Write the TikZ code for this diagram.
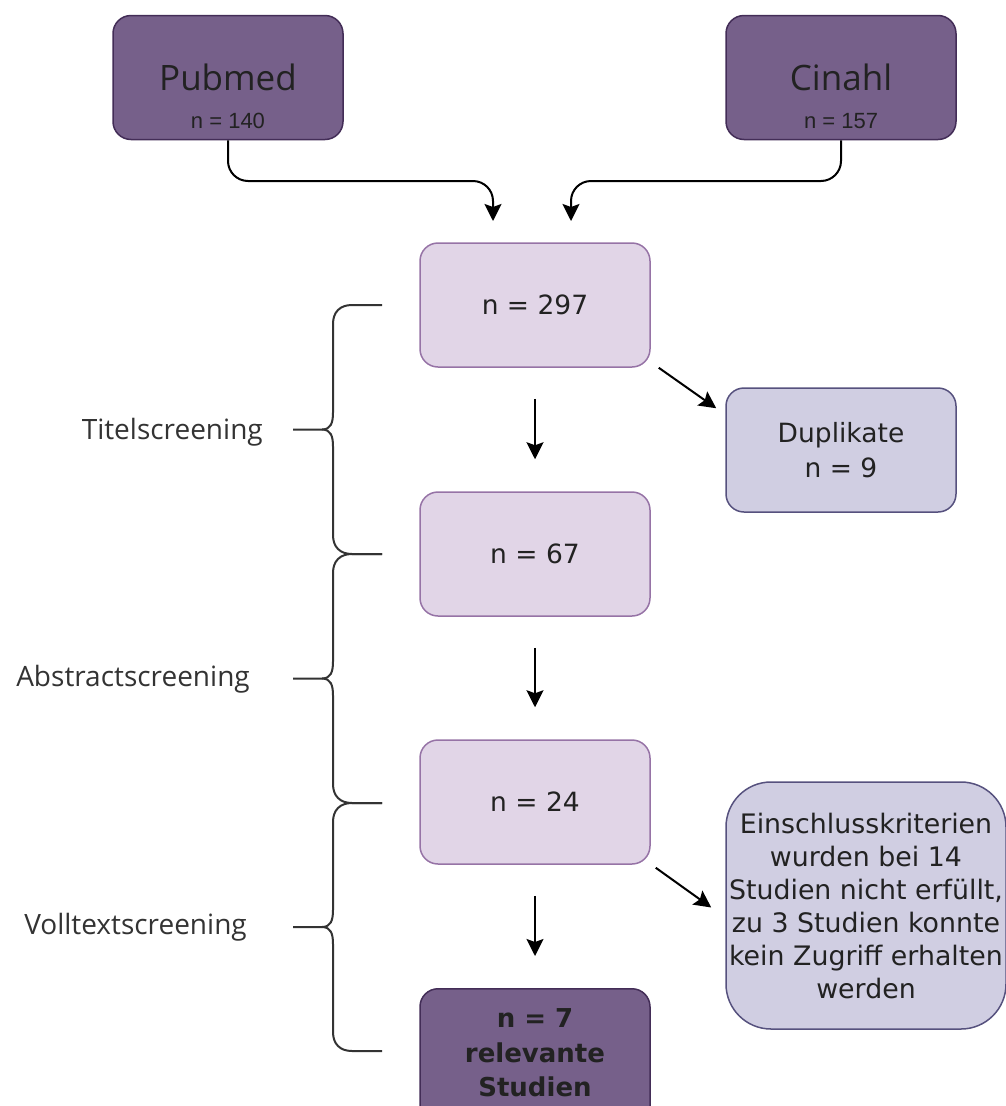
\documentclass[tikz,border=0pt]{standalone}
\usepackage{fontspec}
\setmainfont{DejaVu Sans}
\newfontfamily\labelfont{Open Sans}
\newfontfamily\arialfont{Liberation Sans}
\usetikzlibrary{arrows.meta,calc}
\definecolor{darkfill}{HTML}{76608A}
\definecolor{darkline}{HTML}{432D57}
\definecolor{lightfill}{HTML}{E1D5E7}
\definecolor{lightline}{HTML}{9673A6}
\definecolor{lavfill}{HTML}{D0CEE2}
\definecolor{lavline}{HTML}{56517E}
\definecolor{txt}{HTML}{222222}
\definecolor{bracecol}{HTML}{333333}
\tikzset{
  boxbase/.style={rounded corners=18pt, minimum width=230pt, minimum height=124pt, inner sep=0pt, line width=1.5pt, align=center, text=txt, font=\fontsize{26.5}{35}\selectfont},
  darkbox/.style={boxbase, fill=darkfill, draw=darkline},
  lightbox/.style={boxbase, fill=lightfill, draw=lightline},
  lavbox/.style={boxbase, fill=lavfill, draw=lavline},
  arr/.style={line width=2pt, -{Stealth[length=17pt 0,width=17pt 0,inset=3pt 0]}},
  bracepath/.style={line width=2pt, draw=bracecol},
  sidelabel/.style={anchor=east, inner sep=0pt, text=bracecol, font=\labelfont\fontsize{28}{34}\selectfont},
}
\begin{document}
\begin{tikzpicture}[x=1pt,y=-1pt]
\useasboundingbox (0,0) rectangle (1006,1106);

% top source boxes
\node[darkbox] (pub) at (228,77.5) {};
\node[anchor=base, inner sep=0pt, text=txt, font=\labelfont\fontsize{35}{40}\selectfont] (pubt) at (228,90) {Pubmed};
\node[anchor=base, inner sep=0pt, text=txt, font=\arialfont\fontsize{22}{26}\selectfont] (pubn) at (228,128) {n = 140};

\node[darkbox] (cin) at (841,77.5) {};
\node[anchor=base, inner sep=0pt, text=txt, font=\labelfont\fontsize{35}{40}\selectfont] (cint) at (841,90) {Cinahl};
\node[anchor=base, inner sep=0pt, text=txt, font=\arialfont\fontsize{22}{26}\selectfont] (cinn) at (841,128) {n = 157};

% flow boxes
\node[lightbox] (b297) at (535,305) {n = 297};
\node[lightbox] (b67) at (535,554) {n = 67};
\node[lightbox] (b24) at (535,802) {n = 24};
\node[darkbox, anchor=north, minimum height=140pt] (b7) at (535,988) {};
\node[inner sep=0pt, align=center, text=txt, font=\bfseries\fontsize{26}{34.5}\selectfont] (b7t) at (535,1053) {n = 7\\relevante\\Studien};

\node[lavbox] (dup) at (841,450) {Duplikate\\n = 9};
\node[lavbox, rounded corners=45pt, minimum width=280pt, minimum height=247pt, font=\fontsize{26.8}{33}\selectfont] (ein) at (866,905.5)
  {Einschlusskriterien\\wurden bei 14\\Studien nicht erfüllt,\\zu 3 Studien konnte\\kein Zugriff erhalten\\werden};

% arrow end points
\coordinate (t1) at (493,221);
\coordinate (t2) at (571,221);
\draw[arr, rounded corners=20pt] (pub.south) |- (t1 |- 0,181) -- (t1);
\draw[arr, rounded corners=20pt] (cin.south) |- (t2 |- 0,181) -- (t2);

\draw[arr, shorten <=31pt, shorten >=32pt] (b297.south) -- (b67.north);
\draw[arr, shorten <=31pt, shorten >=32pt] (b67.south) -- (b24.north);
\draw[arr, shorten <=31pt, shorten >=32pt] (b24.south) -- (b7.north);

\coordinate (d1s) at ($(b297.south east)+(8,0)$);
\coordinate (d1e) at ($(dup.north west)+(-9,21)$);
\draw[arr] (d1s) -- (d1e);
\coordinate (d2s) at ($(b24.south east)+(5,3)$);
\coordinate (d2e) at ($(ein.west)+(-14,2)$);
\draw[arr] (d2s) -- (d2e);

% braces
\foreach \ya/\yb in {305/554, 554/803, 803/1051}{
  \pgfmathsetmacro{\ym}{(\ya+\yb)/2}
  \draw[bracepath] (382,\ya) -- (352,\ya) .. controls (340,\ya) and (333,\ya+7) .. (333,\ya+19)
    -- (333,\ym-17) .. controls (333,\ym-7) and (331,\ym) .. (322,\ym) -- (293,\ym);
  \draw[bracepath] (322,\ym) .. controls (331,\ym) and (333,\ym+7) .. (333,\ym+17)
    -- (333,\yb-19) .. controls (333,\yb-7) and (340,\yb) .. (352,\yb) -- (382,\yb);
}
\node[sidelabel] (l1) at (263,432) {Titelscreening};
\node[sidelabel] (l2) at (250,679) {Abstractscreening};
\node[sidelabel] (l3) at (247,927) {Volltextscreening};
\end{tikzpicture}
\end{document}
